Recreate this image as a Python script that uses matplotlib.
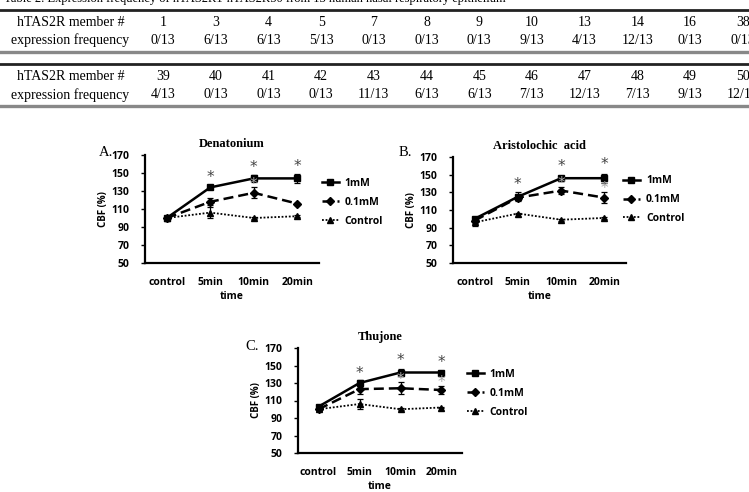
"""
Table 2 (hTAS2R expression) plus CBF time courses for three bitter compounds.
Saves out.png.
"""

import matplotlib.pyplot as plt
from matplotlib.lines import Line2D
import numpy as np


# table data
members_1 = [1, 3, 4, 5, 7, 8, 9, 10, 13, 14, 16, 38]
freq_1 = [0, 6, 6, 5, 0, 0, 0, 9, 4, 12, 0, 0]
members_2 = [39, 40, 41, 42, 43, 44, 45, 46, 47, 48, 49, 50]
freq_2 = [4, 0, 0, 0, 11, 6, 6, 7, 12, 7, 9, 12]
n_samples = 13

# chart data
times = ["control", "5min", "10min", "20min"]
series = ["1mM", "0.1mM", "Control"]

den_vals = {"1mM": [100, 134, 144, 144], "0.1mM": [100, 118, 128, 116], "Control": [100, 106, 100, 102]}
den_err = {"1mM": [0, 2, 4, 5], "0.1mM": [0, 4, 6, 1], "Control": [0, 6, 1, 1]}
den_star = [None, 145, 156, 157]
den_star_grey = [None, None, 137, None]

ari_vals = {"1mM": [100, 125, 146, 146], "0.1mM": [98, 124, 132, 124], "Control": [96, 106, 99, 101]}
ari_err = {"1mM": [2, 5, 3, 5], "0.1mM": [2, 3, 4, 6], "Control": [4, 1, 1, 1]}
ari_star = [None, 139, 159, 161]
ari_star_grey = [None, None, 140, 134]

thu_vals = {"1mM": [103, 130, 142, 142], "0.1mM": [100, 123, 124, 122], "Control": [100, 106, 100, 102]}
thu_err = {"1mM": [2, 3, 4, 2], "0.1mM": [2, 5, 7, 5], "Control": [1, 6, 1, 1]}
thu_star = [None, 141, 156, 153]
thu_star_grey = [None, None, 134, 131]

W, H = 749, 492
SANS = "Open Sans"
SERIF = "Liberation Serif"

STYLES = {
    "1mM": dict(marker="s", ms=5, ls="-", lw=1.8),
    "0.1mM": dict(marker="D", ms=3.6, ls=(0, (4, 2)), lw=1.8),
    "Control": dict(marker="^", ms=4.2, ls=(0, (1, 1)), lw=1.3),
}


def fy(py):
    return 1 - py / H


def fx(px):
    return px / W


def draw_table(fig):
    fig.text(fx(4), fy(-1), "Table 2. Expression frequency of hTAS2R1-hTAS2R50 from 13 human nasal respiratory epithelium",
             family=SERIF, fontsize=9, ha="left", va="center")
    for y, col, lw in [(10, "#222222", 2.0), (52, "#888888", 2.4), (64, "#222222", 2.0), (106, "#888888", 2.4)]:
        fig.add_artist(Line2D([0, 1], [fy(y), fy(y)], transform=fig.transFigure, color=col, lw=lw))

    col_x = 163 + 52.7 * np.arange(len(members_1))
    rows = [(22, 40, members_1, freq_1), (77, 95, members_2, freq_2)]
    for y_top, y_bot, mem, frq in rows:
        fig.text(fx(71), fy(y_top), "hTAS2R member #", family=SERIF, fontsize=10, ha="center", va="center")
        fig.text(fx(70), fy(y_bot), "expression frequency", family=SERIF, fontsize=10, ha="center", va="center")
        for x, m, f in zip(col_x, mem, frq):
            fig.text(fx(x), fy(y_top), str(m), family=SERIF, fontsize=10, ha="center", va="center")
            fig.text(fx(x), fy(y_bot), f"{f}/{n_samples}", family=SERIF, fontsize=10, ha="center", va="center")


def draw_panel(fig, box, title, letter, letter_xy, vals, errs, stars, grey_stars, leg_anchor):
    left, top, right, bottom = box
    ax = fig.add_axes([fx(left), fy(bottom), fx(right - left), (bottom - top) / H])
    x = np.arange(len(times))
    for name in series:
        st = STYLES[name]
        ax.plot(x, vals[name], color="black", marker=st["marker"], ms=st["ms"],
                ls=st["ls"], lw=st["lw"], label=name)
        ax.errorbar(x, vals[name], yerr=errs[name], fmt="none", ecolor="black",
                    elinewidth=0.9, capsize=2, capthick=0.9)
    for xi, s in zip(x, stars):
        if s is not None:
            ax.text(xi, s, "*", ha="center", va="center", fontsize=11, color="#444444", family="DejaVu Sans")
    for xi, s in zip(x, grey_stars):
        if s is not None:
            ax.text(xi, s, "*", ha="center", va="center", fontsize=11, color="#aaaaaa", family="DejaVu Sans")

    ax.set_xlim(-0.5, 3.5)
    ax.set_ylim(50, 170)
    ax.set_yticks(range(50, 171, 20))
    ax.set_xticks(x)
    ax.set_xticklabels(times)
    for sp in ("top", "right"):
        ax.spines[sp].set_visible(False)
    for sp in ("left", "bottom"):
        ax.spines[sp].set_linewidth(1.6)
    ax.tick_params(axis="x", length=0, pad=10)
    ax.tick_params(axis="y", length=3, width=1, pad=8)
    for lab in ax.get_xticklabels() + ax.get_yticklabels():
        lab.set_family(SANS)
        lab.set_fontsize(7.5)
        lab.set_fontweight("bold")
    ax.set_xlabel("time", family=SANS, fontsize=7.5, fontweight="bold", labelpad=2)
    ax.set_ylabel("CBF (%)", family=SANS, fontsize=7, fontweight="bold", labelpad=2)
    ax.set_title(title, family=SERIF, fontsize=9, fontweight="bold", pad=6)
    fig.text(fx(letter_xy[0]), fy(letter_xy[1]), letter, family=SERIF, fontsize=10.5, ha="left", va="center")

    ax.legend(loc="upper left", bbox_to_anchor=leg_anchor, frameon=False, handlelength=1.6,
              handletextpad=0.6, labelspacing=0.75, borderaxespad=0, borderpad=0,
              prop={"family": SANS, "size": 7.5, "weight": "bold"})
    return ax


def main():
    fig = plt.figure(figsize=(W / 100, H / 100), dpi=100)
    draw_table(fig)
    draw_panel(fig, (145, 155, 319, 263), "Denatonium", "A.", (99, 153),
               den_vals, den_err, den_star, den_star_grey, (1.017, 0.787))
    draw_panel(fig, (453, 157, 626, 263), "Aristolochic  acid", "B.", (399, 153),
               ari_vals, ari_err, ari_star, ari_star_grey, (0.983, 0.827))
    draw_panel(fig, (298, 348, 462, 453), "Thujone", "C.", (245, 347),
               thu_vals, thu_err, thu_star, thu_star_grey, (1.03, 0.80))
    fig.savefig("out.png", dpi=100)


if __name__ == "__main__":
    main()
